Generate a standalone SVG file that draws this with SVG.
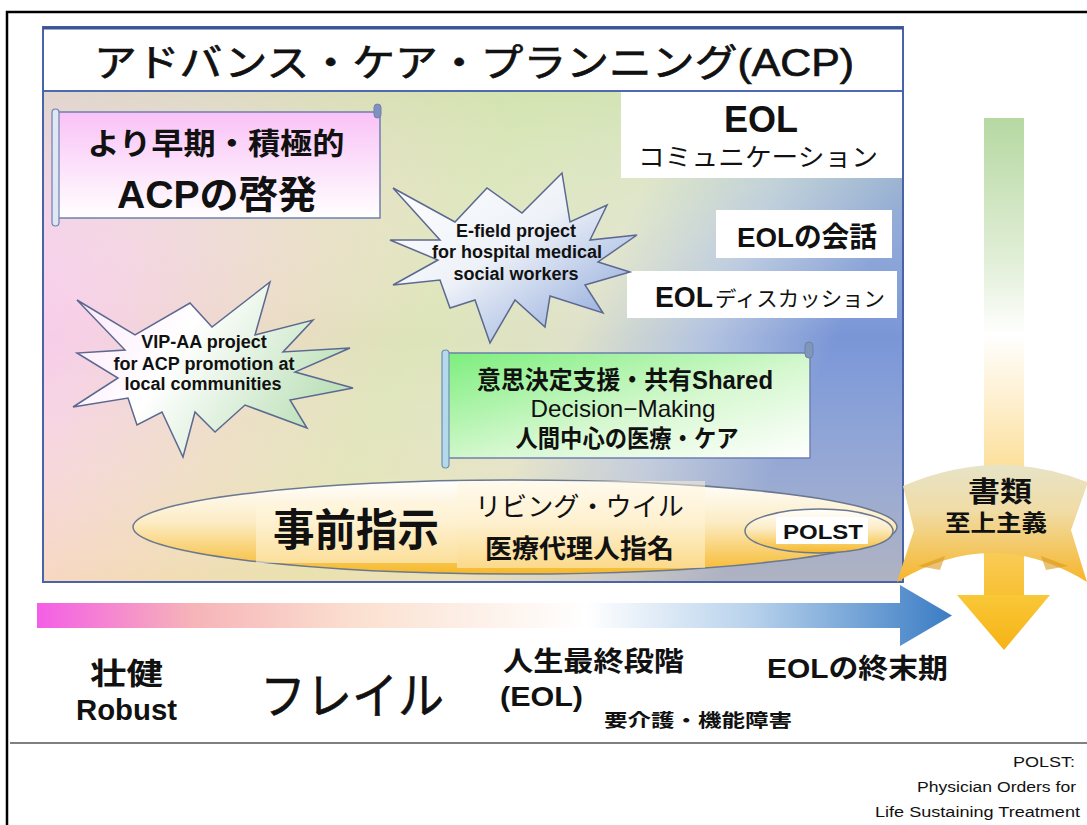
<svg xmlns="http://www.w3.org/2000/svg" width="1087" height="825" viewBox="0 0 1087 825">
<defs>
  <linearGradient id="bgGrad" x1="0" y1="0" x2="1" y2="0.3">
    <stop offset="0" stop-color="#fbc4f7"/>
    <stop offset="0.2" stop-color="#f6d0e4"/>
    <stop offset="0.4" stop-color="#eadcc4"/>
    <stop offset="0.55" stop-color="#dde4b8"/>
    <stop offset="0.72" stop-color="#dfe2c8"/>
    <stop offset="0.86" stop-color="#b4c4e0"/>
    <stop offset="1" stop-color="#7a96d6"/>
  </linearGradient>
  <linearGradient id="bgOver" x1="0" y1="0" x2="0" y2="1">
    <stop offset="0" stop-color="#c8e4a8" stop-opacity="0.5"/>
    <stop offset="0.5" stop-color="#ffffff" stop-opacity="0"/>
    <stop offset="1" stop-color="#ffdca0" stop-opacity="0.4"/>
  </linearGradient>
  <linearGradient id="pinkScroll" x1="0" y1="0" x2="0" y2="1">
    <stop offset="0" stop-color="#f9c2f6"/>
    <stop offset="1" stop-color="#ffffff"/>
  </linearGradient>
  <linearGradient id="greenScroll" x1="0" y1="0" x2="1" y2="1">
    <stop offset="0" stop-color="#7cee7c"/>
    <stop offset="0.55" stop-color="#d6f8d0"/>
    <stop offset="1" stop-color="#ffffff"/>
  </linearGradient>
  <linearGradient id="starBlue" x1="0" y1="0" x2="1" y2="1">
    <stop offset="0" stop-color="#ffffff"/>
    <stop offset="0.45" stop-color="#eef2f8"/>
    <stop offset="1" stop-color="#7f9cd6"/>
  </linearGradient>
  <linearGradient id="starGreen" x1="0" y1="0" x2="1" y2="0.4">
    <stop offset="0" stop-color="#fbe6fa"/>
    <stop offset="0.45" stop-color="#ffffff"/>
    <stop offset="1" stop-color="#bfe2bc"/>
  </linearGradient>
  <linearGradient id="ellGrad" x1="0" y1="0" x2="0" y2="1">
    <stop offset="0" stop-color="#ffffff"/>
    <stop offset="0.45" stop-color="#fcecc4"/>
    <stop offset="1" stop-color="#f6b828"/>
  </linearGradient>
  <linearGradient id="hArrow" gradientUnits="userSpaceOnUse" x1="37" y1="0" x2="952" y2="0">
    <stop offset="0" stop-color="#f45ee6"/>
    <stop offset="0.17" stop-color="#f6b4b8"/>
    <stop offset="0.35" stop-color="#fbe0d0"/>
    <stop offset="0.6" stop-color="#ffffff"/>
    <stop offset="0.78" stop-color="#b8d2ec"/>
    <stop offset="1" stop-color="#3a7cc4"/>
  </linearGradient>
  <linearGradient id="vArrow" gradientUnits="userSpaceOnUse" x1="0" y1="118" x2="0" y2="600">
    <stop offset="0" stop-color="#b6d8a2"/>
    <stop offset="0.3" stop-color="#e2efd8"/>
    <stop offset="0.45" stop-color="#ffffff"/>
    <stop offset="0.65" stop-color="#fde8b8"/>
    <stop offset="1" stop-color="#f8c030"/>
  </linearGradient>
  <linearGradient id="ribbon" gradientUnits="userSpaceOnUse" x1="0" y1="450" x2="0" y2="585">
    <stop offset="0" stop-color="#e4e6d2"/>
    <stop offset="0.45" stop-color="#f0dca6"/>
    <stop offset="1" stop-color="#f7b424"/>
  </linearGradient>
  <linearGradient id="headGrad" x1="0" y1="0" x2="0" y2="1">
    <stop offset="0" stop-color="#f9c838"/>
    <stop offset="1" stop-color="#f6b214"/>
  </linearGradient>
</defs>
<style>
  .jp { font-family: "Liberation Sans", "Noto Sans CJK JP", sans-serif; fill: #111; }
  .en { font-family: "Liberation Sans", Arial, sans-serif; fill: #111; }
  .b { font-weight: bold; }
  .mid { text-anchor: middle; }
  .end { text-anchor: end; }
  .scroll { stroke: #6f7fb0; stroke-width: 1.5; }
  .roll { fill: #dfe6f4; stroke: #6f7fb0; stroke-width: 1.2; }
  .star { stroke: #5c6890; stroke-width: 1.5; stroke-linejoin: miter; }
  .wbox { fill: #ffffff; }
</style>

<rect x="0" y="0" width="1087" height="825" fill="#ffffff"/>
<rect x="7" y="12" width="1100" height="840" fill="none" stroke="#000" stroke-width="2.5"/>

<g id="acp-frame">
  <rect x="43" y="27" width="860" height="555" fill="url(#bgGrad)"/>
  <rect x="43" y="92" width="860" height="490" fill="url(#bgOver)"/>
  <rect x="43" y="27" width="860" height="64" fill="#ffffff"/>
  <line x1="43" y1="91" x2="903" y2="91" stroke="#5068b0" stroke-width="2"/>
  <rect x="43" y="27" width="860" height="555" fill="none" stroke="#4a62a8" stroke-width="2"/>
  <line x1="43" y1="28" x2="903" y2="28" stroke="#3c5494" stroke-width="3"/>
  <text class="jp mid" x="474" y="76" font-size="38" textLength="760" lengthAdjust="spacingAndGlyphs" stroke="#111" stroke-width="0.7">アドバンス・ケア・プランニング(ACP)</text>
</g>

<g id="vertical-arrow">
  <rect x="984" y="118" width="40" height="482" fill="url(#vArrow)"/>
  <polygon points="957,595 1050,595 1004,650" fill="url(#headGrad)"/>
</g>

<g id="ribbon-documents">
  <path d="M903,486 Q995,446 1087,482 L1087,485 L1071,530 L1087,582 Q992,524 897,582 L914,530 Z" fill="url(#ribbon)"/>
  <path d="M918,566 L945,556 L940,570 Z" fill="#d89a20" opacity="0.6"/>
  <path d="M1068,566 L1041,556 L1046,570 Z" fill="#d89a20" opacity="0.6"/>
  <text class="jp b mid" x="1000" y="502" font-size="28" textLength="64" lengthAdjust="spacingAndGlyphs">書類</text>
  <text class="jp b mid" x="996" y="531" font-size="23" textLength="102" lengthAdjust="spacingAndGlyphs">至上主義</text>
</g>

<g id="scroll-acp-promotion">
  <rect class="scroll" x="56" y="112" width="324" height="106" fill="url(#pinkScroll)"/>
  <rect class="roll" x="52" y="109" width="7" height="117" rx="3.5"/>
  <rect x="374" y="104" width="7" height="14" rx="3.5" fill="#8090c0" stroke="#6f7fb0"/>
  <text class="jp b mid" x="216" y="154" font-size="30" textLength="257" lengthAdjust="spacingAndGlyphs">より早期・積極的</text>
  <text class="jp b mid" x="217" y="208" font-size="38" textLength="200" lengthAdjust="spacingAndGlyphs">ACPの啓発</text>
</g>

<g id="eol-communication">
  <rect class="wbox" x="621" y="92" width="281" height="86"/>
  <text class="en b mid" x="761" y="132" font-size="36">EOL</text>
  <text class="jp mid" x="758" y="166" font-size="25" textLength="240" lengthAdjust="spacingAndGlyphs">コミュニケーション</text>
</g>

<g id="eol-conversation">
  <rect class="wbox" x="716" y="210" width="176" height="48"/>
  <text class="jp b mid" x="807" y="247" font-size="28" textLength="140" lengthAdjust="spacingAndGlyphs">EOLの会話</text>
</g>

<g id="eol-discussion">
  <rect class="wbox" x="627" y="271" width="270" height="47"/>
  <text class="en b" x="655" y="307" font-size="29" textLength="58" lengthAdjust="spacingAndGlyphs">EOL</text>
  <text class="jp" x="715" y="306" font-size="21" textLength="170" lengthAdjust="spacingAndGlyphs">ディスカッション</text>
</g>

<g id="star-efield">
  <polygon class="star" fill="url(#starBlue)" points="393,188 455,222 487,188 522,213 562,173 570,222 607,205 590,240 637,235 598,262 630,272 585,285 603,313 550,296 545,327 515,300 490,343 475,300 450,308 440,280 393,285 438,260 390,240 440,240"/>
  <text class="en b mid" x="516" y="237" font-size="18" fill="#222">E-field project</text>
  <text class="en b mid" x="517" y="258" font-size="18" fill="#222">for hospital medical</text>
  <text class="en b mid" x="516" y="280" font-size="18" fill="#222">social workers</text>
</g>

<g id="star-vipaa">
  <polygon class="star" fill="url(#starGreen)" points="77,300 135,335 190,303 212,327 270,282 255,335 313,320 283,352 350,348 295,372 353,388 290,400 307,428 245,405 215,432 195,412 183,457 162,412 137,425 128,398 73,407 118,378 77,353 125,350"/>
  <text class="en b mid" x="204" y="348" font-size="18" fill="#222">VIP-AA project</text>
  <text class="en b mid" x="204" y="370" font-size="18" fill="#222">for ACP promotion at</text>
  <text class="en b mid" x="203" y="390" font-size="18" fill="#222">local communities</text>
</g>

<g id="scroll-shared-decision">
  <rect class="scroll" x="446" y="353" width="364" height="105" fill="url(#greenScroll)"/>
  <rect x="442" y="350" width="7" height="118" rx="3.5" fill="#b4d8ec" stroke="#6f8fb0" stroke-width="1.2"/>
  <rect x="805" y="342" width="8" height="16" rx="4" fill="#8098b8" stroke="#6f7fb0"/>
  <text class="jp b mid" x="625" y="389" font-size="25" textLength="296" lengthAdjust="spacingAndGlyphs">意思決定支援・共有Shared</text>
  <text class="en mid" x="623" y="417" font-size="24" textLength="185" lengthAdjust="spacingAndGlyphs">Decision−Making</text>
  <text class="jp b mid" x="627" y="447" font-size="24" textLength="223" lengthAdjust="spacingAndGlyphs">人間中心の医療・ケア</text>
</g>

<g id="advance-directives">
  <ellipse cx="515" cy="527" rx="382" ry="47" fill="url(#ellGrad)" stroke="#6a7890" stroke-width="1.5"/>
  <rect x="256" y="503" width="201" height="60" fill="#fff6dc" opacity="0.55"/>
  <rect x="457" y="481" width="248" height="87" fill="#fff6dc" opacity="0.5"/>
  <text class="jp b" x="273" y="546" font-size="44" textLength="166" lengthAdjust="spacingAndGlyphs">事前指示</text>
  <text class="jp" x="475" y="516" font-size="26" textLength="209" lengthAdjust="spacingAndGlyphs">リビング・ウイル</text>
  <text class="jp b" x="485" y="558" font-size="26" textLength="189" lengthAdjust="spacingAndGlyphs">医療代理人指名</text>
</g>

<g id="polst">
  <ellipse cx="819" cy="531" rx="74" ry="22" fill="url(#ellGrad)" stroke="#6a7890" stroke-width="1.5"/>
  <rect class="wbox" x="776" y="517" width="92" height="27"/>
  <text class="en b mid" x="823" y="539" font-size="21" textLength="80" lengthAdjust="spacingAndGlyphs">POLST</text>
</g>

<g id="connectors">
  <path id="timeline-arrow" d="M37,603 L900,603 L900,585 L952,615.5 L900,646 L900,628 L37,628 Z" fill="url(#hArrow)"/>
</g>

<g id="stage-robust">
  <text class="jp b" x="90" y="684" font-size="30" textLength="73" lengthAdjust="spacingAndGlyphs">壮健</text>
  <text class="en b" x="76" y="720" font-size="30" textLength="101" lengthAdjust="spacingAndGlyphs">Robust</text>
</g>
<g id="stage-frail">
  <text class="jp" x="260" y="714" font-size="50" textLength="184" lengthAdjust="spacingAndGlyphs" stroke="#111" stroke-width="0.6">フレイル</text>
</g>
<g id="stage-eol">
  <text class="jp b" x="503" y="671" font-size="27" textLength="181" lengthAdjust="spacingAndGlyphs">人生最終段階</text>
  <text class="en b" x="500" y="706" font-size="28" textLength="83" lengthAdjust="spacingAndGlyphs">(EOL)</text>
  <text class="jp b" x="604" y="727" font-size="18" textLength="188" lengthAdjust="spacingAndGlyphs">要介護・機能障害</text>
</g>
<g id="stage-terminal">
  <text class="jp b" x="767" y="678" font-size="27" textLength="181" lengthAdjust="spacingAndGlyphs">EOLの終末期</text>
</g>

<line x1="10" y1="743" x2="1087" y2="743" stroke="#808080" stroke-width="2"/>

<g id="footnote">
  <text class="en end" x="1075" y="767" font-size="14" textLength="62" lengthAdjust="spacingAndGlyphs">POLST:</text>
  <text class="en end" x="1076" y="792" font-size="14" textLength="159" lengthAdjust="spacingAndGlyphs">Physician Orders for</text>
  <text class="en end" x="1080" y="817" font-size="14" textLength="205" lengthAdjust="spacingAndGlyphs">Life Sustaining Treatment</text>
</g>
</svg>
